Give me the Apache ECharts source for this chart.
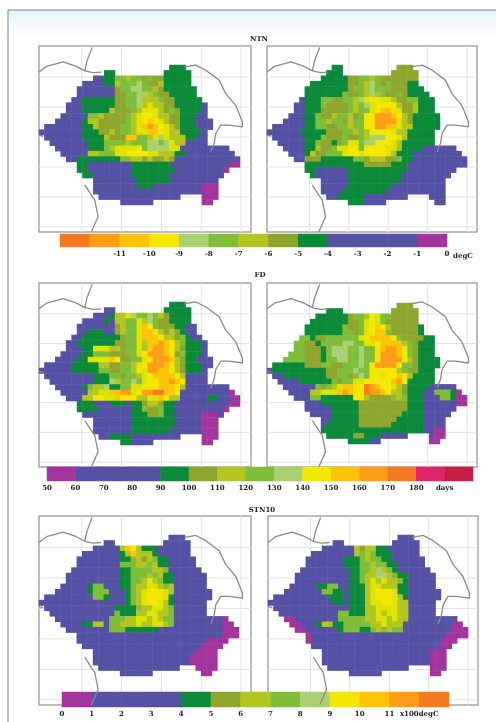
<!DOCTYPE html>
<html><head><meta charset="utf-8">
<style>html,body{margin:0;padding:0;background:#fff}#c{width:496px;height:722px;filter:blur(0.65px)}</style>
<script src="https://cdn.jsdelivr.net/npm/echarts@6/dist/echarts.min.js"></script>
</head><body><div id="c"></div>
<script>
// Class codes -> colours
const classCodes = ['P','B','G','V','W','L','M','T','Y','A','O','R','K','C'];
const classColors = ['#A2349C','#5552A6','#0B8A3A','#8FA62E','#B5C520','#7EBE38','#A9D172','#DCE400','#F4E800','#FFC408','#FF9E16','#F67A20','#E0246C','#C81E46'];

// Maps: one row per latitude band, count+code run-lengths ('.' = outside the country)
const ntnA = ["24.3G","12.2G9.5G","10.2B2GLLWLLVLVV5G","8.4B2GWLLLMLVVW5G","7.7BVLLMMLLWV6G","7.7BVVLLMMWLVV5G","6.2B6GVVLLMWWWLVV5G","5.3B6GVVLLMWTWWVV5GB","5.3B5GWVVVLWTTTWVLV4GB","4.5BLLWVVVVLWTYYTWWVV3G2B","3.5BGWWVVVVVLWTYAYTWVV3G3B","1.7B2GWVVVVLLWTAOAYTWV3G3B","8B3GVVWVLLWTTAAYTWW4GB","1.7B4GWVVVAALLWTMTWWW2G2B","2.7B3GLLLLWLLLMMLMTWW4B","3.6B3GLWTTTTYLMMMMTT9B","4.5BWWLLLTTYYYYTTWWW2G9B","5.2B6G2GLLWWVWVVWV12B","7.2G8B7G11B2P","7.2G8B8G9BP","8.2G7B7G10B","10.8B6G9B","10.8B3G9B3P","10.20B3P","11.15B4.3P","15.6B9.2P"];
const ntnB = ["12.2G10.3V","11.3G9.5V","10.5GVVLLWLVV5V","8.7GVVLWMLVL3V2G","7.8GVLLWMLLLVVV3G","7.7GLVVLWMWLVVLV4G","6.B3GLLVVLLWMTYYTTWVVLL3G","5.2B3GLVVVVLWLMTYYYYWVVW3G","5.2B3GVVVVVLWLLTYAAYTVVW3G","4.3B2GLVVWLLWVLYYOOOAYWV5G","3.4B2GLLWLLVWLLYYOOOOTWV5G","1.6B2GLLVVLLWLLYYOOAATWW5G","6B5GVVVLLWLWYYYYTWW5G","1.6B3GLVVVLVVLWMMMYYTW5G","2.5B2GLVVGVLTTLMMYYYTW6G","3.4B2GWVVLTTYYLYYYYTTW4G6B","4.3BGWVVLLLTYYTYYYYTW3G9B","5.2B3V6GLLVWWWVVL2G10B","7.11G5V3G11B","7.2G6B11G9B","8.G6B10G9B","10.5B10G8B","10.5B8G10B","10.4B8G11B","11.2B5G8B4.3B","15.3G4B9.2B"];
const fdA = ["24.3G","12.2B9.5G","10.3BGWWTMLLMLWV4G","8.4BGBWWLLTWMLVV4G","7.7BVWLLTAYLVVV2G2B","7.2B3G2BVWLLTAAYWVWVG2B","6.2B7GVLLTAAAYWWVLG2B","5.2B7GVVLLTWAAOAYWL3GB","5.3B2GTTTWWVLLTWAOOAYWV3GB","4.4BGGLLLVVVLLTYOOOAYVL3GB","3.4B2GTTTTAYVVLLTYOOOAWV2G3B","1.5B5GWWVVLLWTYOOOAYWV3G2B","6B5GLLVVLLWYTOOAAYWV3GB","1.9B3GLLVLLWTYAAAAYW4B","2.8B3GMWLLMLTYYAAOAY4B","3.5BGLWWMGGLLTTYYYAAAYW8B","4.5BWWTTAAOOTYOORRAAY9BP","5.3BWWYYTTAYYYWWTTAYWW5B2G2B2P","7.3G3B3GB2GVWWV2G10B2P","7.4G6B2GLVVL2G9BP","8.9B3GVVL2G5B3PB","10.7B8G5B3P","10.7B8G5B3P","10.7B7G6B3P","11.2B4G9B4.3P","15.2G4B9.2P"];
const fdB = ["24.3V","11.3G9.5V","9.6GVLLWYTLL5V","8.7GVVLTYTLV5V","7.7GLVVLTYAYW5VG","7.7GLLVLTYAALV4VG","6.2LGVVLLLLLLTYAAAAYLVVVV2G","5.2L2VGLLLLMMLLTTYAAAAWLV3G","5.2L3VGLMMMLLMLLYAOOAYLV3G","4.3L3VGLMMMLLMLLYOOOAYLV3G","3.4L3VGLLMMLLMLLYOOOOYWV4G","1.6GVVVLLVVLLLMLYOOOOYLLV4G","B10GVVLLLMLLYYYYYWLVV3G","1.2B8GVVLLVLMLYYTYYAYW4G","2.4B6GLVLLTTYYYYYAOY5G","3.6BLVLWTAAYYROAYYTWV4G5B","4.4BWWTTTAOAYYROOAYWWV3G2B3LGP","5.3B2L6GYYWVVVVLWL3G3B2LG2P","7.3B7G9V3G6B2P","7.5B5G9V3G6B","8.4B5G8V4G5B","10.2B5G7V5G4B","10.B6G6V6G4B","10.19G2B2P","11.5G2V3G5B4.B2P","15.4G2B9.2P"];
const stnA = ["24.3B","12.2B9.5B","10.5BWAYW3G6B","8.7BGWAWWWG6B","7.8BGGLWVWLGG5B","7.8BLLLWWLWGG5B","6.9B2GLLLLWWL6B","5.10B2GLLLWLW2G6B","5.10B2GLLWTWL2G6B","4.5BG2L3B2GLWWTTWLW6B","3.6BG3L3BGLWTYYYTW7B","1.9B2LG3BGLWTYYYTG7B","16BGLWTYYTWG6B","1.13B4GLWWTTWL6B","2.12BL3GWWTTWWL6B","3.10BLLLWWTTWTWLL9BP","4.4B2G2WB2LWWWTWWTTWL9B2P","5.8B3L6G12B3P","7.27B3P","7.24B4P","8.22B4P","10.19B4P","10.18B5P","10.18B5P","11.15B3.4P","15.6B9.2P"];
const stnB = ["24.3B","12.2B9.5B","10.6BWVWW2G6B","8.8BWLWL3G5B","7.7B3GLWLL2G6B","7.7B3GLLWLL2G5B","6.9B2GLLWMWLG6B","5.10B2GLWWMMWL2G5B","5.10B2GLWTWTWWLG5B","4.5B2G2L2B3GWTTWWW2G5B","3.7B2L2GB3GWTYYYT2G6B","1.10B3GB3GWTYYYTWG6B","12B2GB3GWTTYYTWW5B","1.14B3GWWTTTTWW5B","2.11B2L3GWWTWTTWW5B","3.2P8B5LWWTTWTWW9B","4.2P3BG2W2G5LWWTWWW9B2P","5.2P6BG3L2GLWLWLL9B3P","7.P25B4P","7.P24B3P","8.24B2P","10.20B3P","10.20B3P","10.20B3P","11.15B4.3P","15.6B9.2P"];

// Colour bar classes and tick labels
const ntnBar = ['R','O','A','Y','M','L','W','V','G','B','B','B','P'];
const ntnTicks = [-11,-10,-9,-8,-7,-6,-5,-4,-3,-2,-1,0];
const fdBar = ['P','B','B','B','G','V','W','L','M','Y','A','O','R','K','C'];
const fdTicks = [50,60,70,80,90,100,110,120,130,140,150,160,170,180];
const stnBar = ['P','B','B','B','G','V','W','L','M','Y','A','O','R'];
const stnTicks = [0,1,2,3,4,5,6,7,8,9,10,11];

// Background geography, in degrees
const lonLines = [22,24,26,28,30];
const latLines = [48,47,46,45,44,43];
const borderNW = [[19.85,48.17],[20.23,48.36],[21.07,48.51],[21.73,48.36],[22.15,48.21],[22.57,48.15],[22.98,48.17]];
const borderN = [[22.52,48.99],[22.27,48.56],[22.15,48.21]];
const borderNE = [[27.15,48.34],[27.73,48.40],[28.23,48.23],[28.9,47.9],[29.23,47.45],[29.73,47.06],[30.07,46.51],[30.07,46.34],[29.4,46.4],[28.98,46.4],[28.73,46.12],[28.65,45.79],[28.48,45.5]];
const borderS = [[22.15,44.4],[22.48,44.06],[22.65,43.9],[22.82,43.34],[22.48,42.84]];
const borderW = [[19.85,46.06],[20.07,46.03]];
const lonRange = [19.85,30.5], latRange = [42.83,49.04];

const COLS = 37, ROWS = 26;
function decode(rows){
  const out=[];
  rows.forEach((s,r)=>{
    let c=0;
    for(const m of s.matchAll(/(\d*)(\D)/g)){
      const n=m[1]?+m[1]:1;
      for(let i=0;i<n;i++){ if(m[2]!=='.'&&c<COLS) out.push([c,r,classCodes.indexOf(m[2])]); c++; }
    }
  });
  return out;
}
const range=n=>Array.from({length:n},(_,i)=>i);
const grids=[],xAxes=[],yAxes=[],series=[],heatIdx=[];
function addGrid(rect,opts){grids.push(Object.assign({left:rect[0],top:rect[1],width:rect[2],height:rect[3],containLabel:false},opts||{}));return grids.length-1;}
function addHeat(rect,cols,rows,data){
  const g=addGrid(rect);
  const cat=n=>({type:'category',gridIndex:g,data:range(n),show:false});
  xAxes.push(cat(cols));
  yAxes.push(Object.assign(cat(rows),{inverse:true}));
  heatIdx.push(series.length);
  series.push({type:'heatmap',xAxisIndex:xAxes.length-1,yAxisIndex:yAxes.length-1,data,z:2,progressive:0,itemStyle:{borderWidth:0}});
}
const joinLines=ls=>ls.reduce((a,l,i)=>a.concat(i?[['-','-']]:[],l),[]);
function addPanel(frame,map,rows){
  const g=addGrid(frame,{show:true,backgroundColor:'#fff',borderColor:'#A6A6A6',borderWidth:1.5});
  xAxes.push({type:'value',gridIndex:g,min:lonRange[0],max:lonRange[1],show:false});
  yAxes.push({type:'value',gridIndex:g,min:latRange[0],max:latRange[1],show:false});
  const xi=xAxes.length-1,yi=yAxes.length-1;
  const grat=joinLines(lonLines.map(l=>[[l,latRange[0]],[l,latRange[1]]]).concat(latLines.map(l=>[[lonRange[0],l],[lonRange[1],l]])));
  const line=(data,color,w,z)=>series.push({type:'line',xAxisIndex:xi,yAxisIndex:yi,data,symbol:'none',z,connectNulls:false,lineStyle:{color,width:w},silent:true});
  line(grat,'#DFE2E4',1,1);
  addHeat(map,COLS,ROWS,decode(rows));
  line(joinLines([borderNW,borderN,borderNE,borderS,borderW]),'#8A8A8A',1.3,3);
}
function addBar(rect,codes,min,max,step,ticks,extra){
  addHeat(rect,codes.length,1,codes.map((k,i)=>[i,0,classCodes.indexOf(k)]));
  const g=addGrid(rect);
  xAxes.push({type:'value',gridIndex:g,min,max,interval:step,position:'bottom',
    axisLine:{show:false},axisTick:{show:false},splitLine:{show:false},
    axisLabel:{show:true,margin:4,fontSize:7,fontWeight:'bold',fontFamily:'DejaVu Serif',color:'#222',showMinLabel:true,showMaxLabel:true,hideOverlap:false,
      formatter:v=>ticks.includes(v)?String(v):(extra&&extra[v]!==undefined?extra[v]:'')}});
  yAxes.push({type:'value',gridIndex:g,min:0,max:1,show:false});
}

addPanel([39,46,212,186],[39,65,201,140],ntnA);
addPanel([267,46,210,186],[267,65,200,140],ntnB);
addPanel([39,283,212,184],[39,302,201,143],fdA);
addPanel([267,283,210,184],[267,303,200,141],fdB);
addPanel([39,516,212,189],[39,535,200,141],stnA);
addPanel([268,516,210,189],[268,535,200,141],stnB);
addBar([60,234,387,13],ntnBar,-13,0,1,ntnTicks);
addBar([47,467,426,14],fdBar,50,200,10,fdTicks,{190:'days'});
addBar([62,692,387,15],stnBar,0,13,1,stnTicks,{12:'x100degC'});

const label=(text,x,y)=>({type:'text',x,y,z:50,style:{text,fontSize:7,fontWeight:'bold',fontFamily:'DejaVu Serif',fill:'#222',align:'center',verticalAlign:'middle'}});
const chart=echarts.init(document.getElementById('c'),null,{renderer:'canvas'});
chart.setOption({
  animation:false,backgroundColor:'#fff',
  grid:grids,xAxis:xAxes,yAxis:yAxes,series,
  visualMap:{type:'piecewise',show:false,dimension:2,seriesIndex:heatIdx,pieces:classColors.map((color,i)=>({value:i,color}))},
  graphic:[
    {type:'rect',z:-10,shape:{x:8,y:10,width:500,height:720},style:{stroke:'#6E8CA4',lineWidth:1,fill:{type:'linear',x:0,y:0,x2:0,y2:0.04,colorStops:[{offset:0,color:'#E6F2F8'},{offset:1,color:'#FFFFFF'}]}}},
    label('NTN',259,39),label('FD',260,275),label('STN10',262,510),label('degC',463,256)
  ]
});
</script></body></html>
